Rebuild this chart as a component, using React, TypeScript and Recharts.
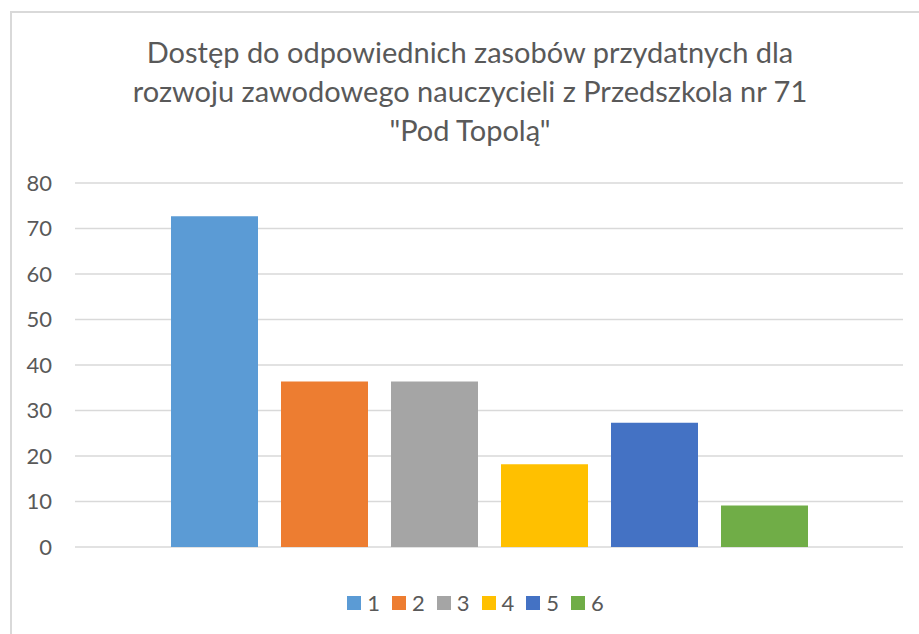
import React from 'react';
import { BarChart, Bar, XAxis, YAxis, CartesianGrid } from 'recharts';

const categories = [''];
const seriesNames = ['1', '2', '3', '4', '5', '6'];
const seriesValues = [72.7, 36.4, 36.4, 18.2, 27.3, 9.1];
const seriesColors = ['#5B9BD5', '#ED7D31', '#A5A5A5', '#FFC000', '#4472C4', '#70AD47'];
const yTicks = [0, 10, 20, 30, 40, 50, 60, 70, 80];
const titleLines = [
  'Dostęp do odpowiednich zasobów przydatnych dla',
  'rozwoju zawodowego nauczycieli z Przedszkola nr 71',
  '"Pod Topolą"',
];

const data = categories.map((name) => {
  const row: Record<string, string | number> = { name };
  seriesNames.forEach((s, i) => {
    row['s' + s] = seriesValues[i];
  });
  return row;
});

const FONT = 'Lato, "Open Sans", sans-serif';
const TEXT = '#595959';

function LegendBox() {
  return (
    <div
      style={{
        position: 'absolute',
        left: 0,
        top: 590,
        width: 951,
        display: 'flex',
        justifyContent: 'center',
        fontFamily: FONT,
        fontSize: 22,
        lineHeight: '26px',
        color: TEXT,
      }}
    >
      {seriesNames.map((s, i) => (
        <div key={s} style={{ display: 'flex', alignItems: 'center', marginRight: i < seriesNames.length - 1 ? 12 : 0 }}>
          <span style={{ width: 14, height: 14, background: seriesColors[i], display: 'inline-block', marginRight: 6 }} />
          <span>{s}</span>
        </div>
      ))}
    </div>
  );
}

export default function App() {
  return (
    <div style={{ position: 'absolute', left: 0, top: 0, width: 919, height: 634, background: '#fff', overflow: 'hidden' }}>
      <div
        style={{
          position: 'absolute',
          left: 10,
          top: 11,
          width: 930,
          height: 640,
          borderLeft: '2px solid #d9d9d9',
          borderTop: '2px solid #d9d9d9',
        }}
      />
      <div
        style={{
          position: 'absolute',
          left: 0,
          top: 32,
          width: 940,
          textAlign: 'center',
          fontFamily: FONT,
          fontSize: 29,
          lineHeight: '39px',
          color: TEXT,
        }}
      >
        {titleLines.map((l) => (
          <div key={l}>{l}</div>
        ))}
      </div>
      <div style={{ position: 'absolute', left: 0, top: 0 }}>
        <BarChart
          width={919}
          height={634}
          data={data}
          margin={{ top: 183, right: 16, left: 0, bottom: 87 }}
          barGap={23}
          barSize={87}
        >
          <CartesianGrid vertical={false} stroke="#d9d9d9" strokeWidth={1.5} />
          <XAxis dataKey="name" hide />
          <YAxis
            width={75}
            domain={[0, 80]}
            ticks={yTicks}
            axisLine={false}
            tickLine={false}
            tickSize={0}
            tickMargin={23}
            tick={{ fill: TEXT, fontSize: 22, fontFamily: FONT }}
          />
          {seriesNames.map((s, i) => (
            <Bar key={s} dataKey={'s' + s} name={s} fill={seriesColors[i]} isAnimationActive={false} />
          ))}
        </BarChart>
      </div>
      <LegendBox />
    </div>
  );
}
